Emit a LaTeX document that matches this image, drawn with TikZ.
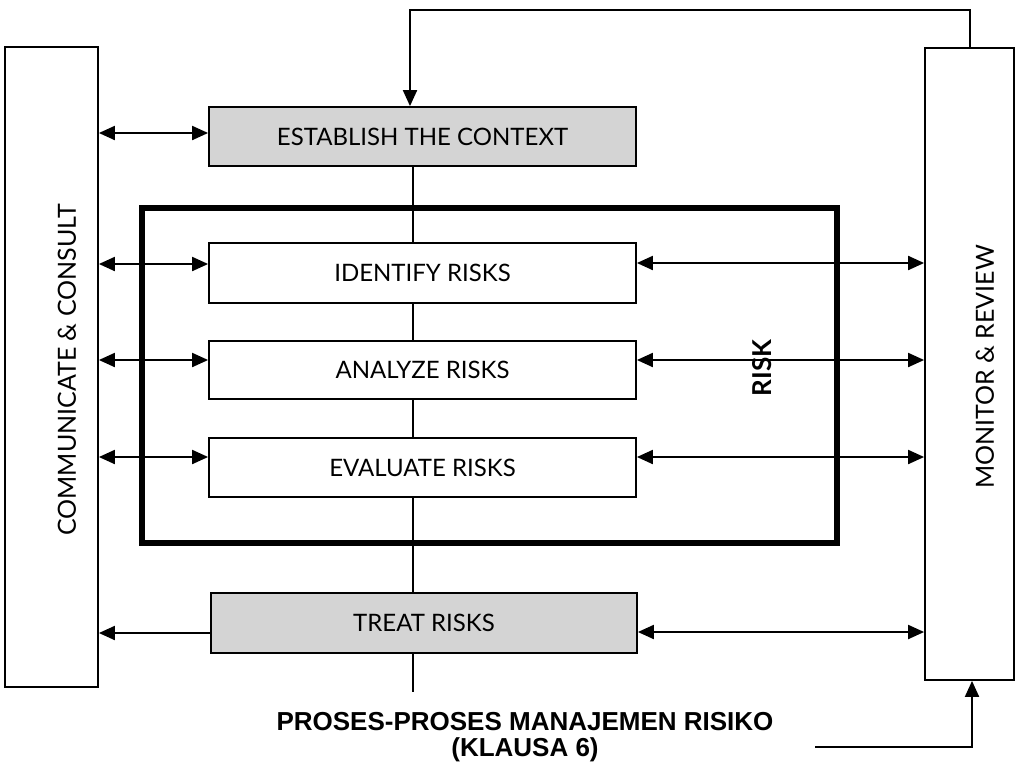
\documentclass[tikz,border=0pt]{standalone}
\usepackage{fontspec}
\setmainfont{Lato}
\newfontfamily\botfont{Liberation Sans}
\usetikzlibrary{arrows.meta}
\begin{document}
\begin{tikzpicture}[x=1pt,y=-1pt,
  box/.style={draw, line width=1.8pt, minimum width=427pt, minimum height=59pt, inner sep=0pt, font=\fontsize{24}{28}\selectfont},
  shadebox/.style={box, fill=black!17},
  panel/.style={draw, line width=1.8pt, inner sep=0pt},
  vlabel/.style={rotate=90, inner sep=0pt, font=\fontsize{25}{30}\selectfont},
  conn/.style={line width=2pt, -{Triangle[length=16pt,width=14pt]}},
  dbl/.style={line width=2pt, {Triangle[length=16pt,width=14pt]}-{Triangle[length=16pt,width=14pt]}},
  spine/.style={line width=1.2pt},
  bottext/.style={inner sep=0pt, font=\botfont\bfseries\fontsize{26}{30}\selectfont},
]
\useasboundingbox (0,0) rectangle (1016,764);

% side panels
\node[panel, minimum width=93pt, minimum height=640pt] (cc) at (51.5,367) {};
\node[vlabel] (cct) at (67,370) {COMMUNICATE \& CONSULT};
\node[panel, minimum width=89pt, minimum height=632pt] (mr) at (969.5,364) {};
\node[vlabel] (mrt) at (985,367) {MONITOR \& REVIEW};

% risk frame
\node[draw, line width=5.5pt, minimum width=695pt, minimum height=335pt, inner sep=0pt] (rk) at (489.5,375.5) {};
\node[rotate=90, inner sep=0pt, font=\bfseries\fontsize{26}{30}\selectfont] (rkt) at (762,368) {RISK};

% process boxes
\node[shadebox] (est) at (422.5,136.5) {ESTABLISH THE CONTEXT};
\node[box, fill=white, minimum height=60pt] (id) at (422.5,273) {IDENTIFY RISKS};
\node[box, fill=white, minimum height=58pt] (an) at (422.5,370) {ANALYZE RISKS};
\node[box, fill=white, minimum height=59pt] (ev) at (422.5,467.5) {EVALUATE RISKS};
\node[shadebox, minimum width=426pt, minimum height=60pt] (tr) at (424,623) {TREAT RISKS};

% spine
\coordinate (sx) at (413,0);
\coordinate (send) at (413,692);
\draw[spine] (est.south -| sx) -- (id.north -| sx);
\draw[spine] (id.south -| sx) -- (an.north -| sx);
\draw[spine] (an.south -| sx) -- (ev.north -| sx);
\draw[spine] (ev.south -| sx) -- (tr.north -| sx);
\draw[spine] (tr.south -| sx) -- (send);

% left connectors
\draw[dbl] (cc.east |- 0,133) -- (est.west |- 0,133);
\draw[dbl] (cc.east |- 0,264) -- (id.west |- 0,264);
\draw[dbl] (cc.east |- 0,360) -- (an.west |- 0,360);
\draw[dbl] (cc.east |- 0,457) -- (ev.west |- 0,457);
\draw[conn] (tr.west |- 0,633) -- (cc.east |- 0,633);

% right connectors
\draw[dbl] (id.east |- 0,263) -- (mr.west |- 0,263);
\draw[dbl] (an.east |- 0,360) -- (mr.west |- 0,360);
\draw[dbl] (ev.east |- 0,457) -- (mr.west |- 0,457);
\draw[dbl] (tr.east |- 0,632) -- (mr.west |- 0,632);

% feedback loops
\coordinate (t1) at (970,10);
\coordinate (t2) at (410,10);
\draw[conn] (mr.north -| t1) -- (t1) -- (t2) -- (est.north -| t2);
\coordinate (b1) at (815,747);
\coordinate (b2) at (972,747);
\draw[conn] (b1) -- (b2) -- (mr.south -| b2);

% caption
\node[bottext] (cap1) at (525,722) {PROSES-PROSES MANAJEMEN RISIKO};
\node[bottext] (cap2) at (525,750) {(KLAUSA 6)};
\end{tikzpicture}
\end{document}
